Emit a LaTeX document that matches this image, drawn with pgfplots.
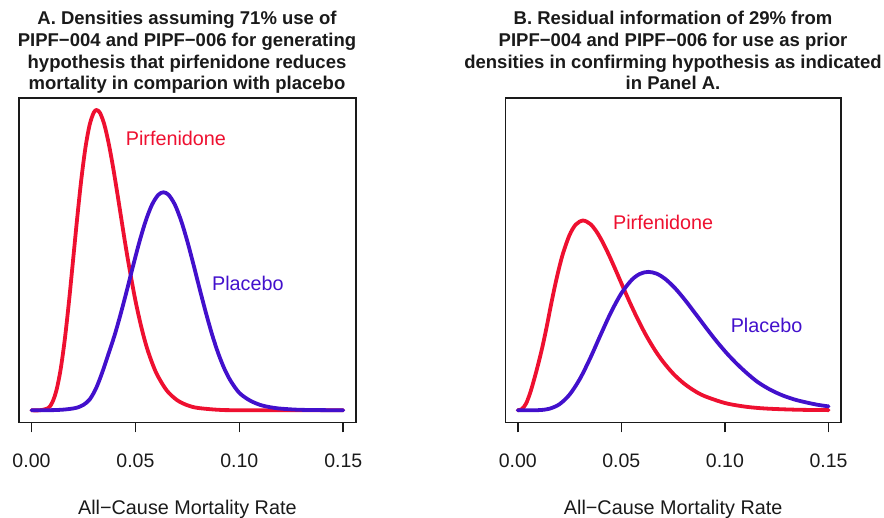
\documentclass[border=0pt]{standalone}
\usepackage{fontspec}
\setmainfont{Liberation Sans}
\usepackage{pgfplots}
\pgfplotsset{compat=1.18}
\definecolor{cred}{HTML}{EE1030}
\definecolor{cblue}{HTML}{4210CC}
\definecolor{ink}{HTML}{1A1A1A}

\pgfplotsset{panel/.style={
  anchor=south west, height=324.3pt, scale only axis,
  xmin=-0.006, xmax=0.156, ymin=-0.04, ymax=1.04,
  xtick={0,0.05,0.1,0.15}, xticklabels={0.00,0.05,0.10,0.15},
  ytick=\empty, xtick pos=bottom,
  tick align=outside, major tick length=10pt,
  axis line style={line width=1.6pt, draw=ink},
  tick style={line width=1.6pt, draw=ink},
  /pgf/number format/assume math mode=true,
  xticklabel style={font=\fontsize{19.5}{22}\selectfont, inner sep=0pt, anchor=north, yshift=-21pt, text=ink},
  xlabel style={font=\fontsize{19.8}{22}\selectfont, at={(axis description cs:0.5,0)}, anchor=north, yshift=-77.5pt, inner sep=0pt, text=ink},
  xlabel={All−Cause Mortality Rate},
  every axis plot/.append style={line width=3.8pt, smooth, line cap=round, line join=round},
}}

\begin{document}
\begin{tikzpicture}
\useasboundingbox (0,0) rectangle (884pt,-518pt);

\node[align=center, anchor=north, inner sep=0pt, font=\bfseries\fontsize{18.5}{21.7}\selectfont, text=ink] at (187pt,-11pt)
 {A. Densities assuming 71\% use of\\PIPF−004 and PIPF−006 for generating\\hypothesis that pirfenidone reduces\\mortality in comparion with placebo};
\node[align=center, anchor=north, inner sep=0pt, font=\bfseries\fontsize{18.5}{21.7}\selectfont, text=ink] at (673pt,-11pt)
 {B. Residual information of 29\% from\\PIPF−004 and PIPF−006 for use as prior\\densities in confirming hypothesis as indicated\\in Panel A.};

\begin{axis}[panel, at={(19pt,-422.3pt)}, width=336.7pt]
\addplot[cred] coordinates {
(0,0) (0.004,0.0001) (0.008,0.0073) (0.010,0.0259) (0.012,0.066) (0.014,0.135)
(0.016,0.234) (0.018,0.359) (0.020,0.499) (0.022,0.640) (0.024,0.770)
(0.026,0.876) (0.028,0.951) (0.030,0.992) (0.0314,1.0) (0.033,0.990)
(0.035,0.953) (0.037,0.894) (0.039,0.820) (0.041,0.736) (0.043,0.648)
(0.045,0.560) (0.047,0.478) (0.050,0.366) (0.053,0.273) (0.056,0.198)
(0.060,0.125) (0.065,0.0668) (0.070,0.0341) (0.075,0.0167) (0.080,0.0079)
(0.090,0.0016) (0.100,0.0003) (0.150,0)};
\addplot[cblue] coordinates {
(0,0) (0.010,0.0005) (0.015,0.002) (0.019,0.005) (0.022,0.009) (0.025,0.018)
(0.028,0.036) (0.031,0.072) (0.034,0.125) (0.037,0.187) (0.040,0.250)
(0.043,0.323) (0.046,0.402) (0.049,0.484) (0.052,0.5625) (0.055,0.6315)
(0.058,0.6848) (0.061,0.7173) (0.0635,0.726) (0.066,0.7173) (0.069,0.6848)
(0.072,0.6315) (0.075,0.5625) (0.078,0.484) (0.081,0.402) (0.084,0.323)
(0.087,0.250) (0.090,0.187) (0.093,0.1355) (0.096,0.096) (0.100,0.058)
(0.105,0.033) (0.110,0.018) (0.115,0.010) (0.120,0.0055) (0.130,0.0015) (0.150,0)};
\node[anchor=west, inner sep=0pt, text=cred, font=\fontsize{19.8}{22}\selectfont] at (axis cs:0.0453,0.904) {Pirfenidone};
\node[anchor=west, inner sep=0pt, text=cblue, font=\fontsize{19.8}{22}\selectfont] at (axis cs:0.0868,0.422) {Placebo};
\end{axis}

\begin{axis}[panel, at={(505.3pt,-422.3pt)}, width=335.7pt]
\addplot[cred] coordinates {
(0,0) (0.002,0.004) (0.004,0.022) (0.006,0.058) (0.008,0.105) (0.010,0.157)
(0.012,0.214) (0.014,0.279) (0.016,0.3493) (0.018,0.4156) (0.020,0.4751)
(0.022,0.526) (0.025,0.5838) (0.028,0.6186) (0.0315,0.632) (0.035,0.6205)
(0.038,0.5953) (0.041,0.5596) (0.044,0.5173) (0.047,0.471) (0.050,0.4232)
(0.054,0.3606) (0.058,0.302) (0.062,0.2489) (0.066,0.2026) (0.070,0.1629)
(0.075,0.1222) (0.080,0.0904) (0.085,0.0661) (0.090,0.0477) (0.100,0.0242)
(0.110,0.0119) (0.120,0.0057) (0.135,0.0018) (0.150,0.0006)};
\addplot[cblue] coordinates {
(0,0) (0.010,0.0005) (0.015,0.0047) (0.020,0.0195) (0.025,0.052) (0.030,0.1046)
(0.035,0.1739) (0.040,0.2513) (0.045,0.3263) (0.050,0.3894) (0.055,0.4342)
(0.059,0.4544) (0.063,0.461) (0.067,0.455) (0.071,0.4384) (0.076,0.406)
(0.081,0.3648) (0.086,0.3195) (0.091,0.2736) (0.096,0.2294) (0.101,0.1889)
(0.106,0.153) (0.111,0.121) (0.116,0.093) (0.122,0.068) (0.128,0.049)
(0.134,0.035) (0.140,0.025) (0.145,0.018) (0.150,0.013)};
\node[anchor=west, inner sep=0pt, text=cred, font=\fontsize{19.8}{22}\selectfont] at (axis cs:0.0459,0.624) {Pirfenidone};
\node[anchor=west, inner sep=0pt, text=cblue, font=\fontsize{19.8}{22}\selectfont] at (axis cs:0.1027,0.283) {Placebo};
\end{axis}
\end{tikzpicture}
\end{document}
